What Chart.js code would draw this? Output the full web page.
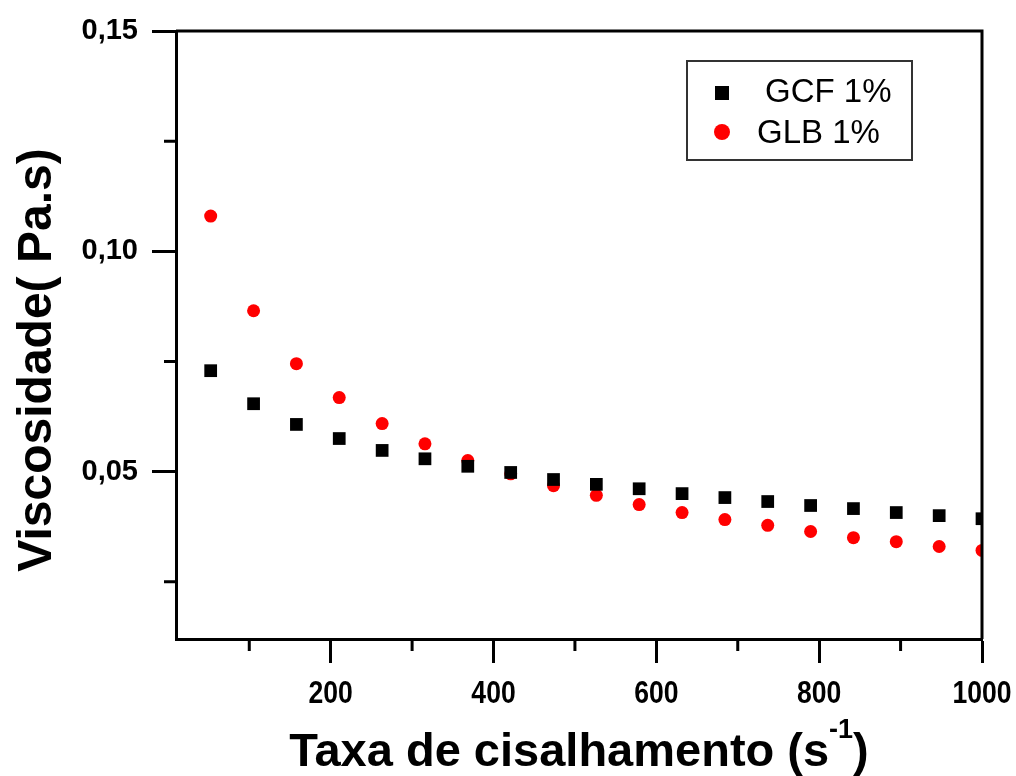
<!DOCTYPE html>
<html>
<head>
<meta charset="utf-8">
<script src="https://cdn.jsdelivr.net/npm/chart.js@4.4.1/dist/chart.umd.min.js"></script>
<style>
  html, body { margin: 0; padding: 0; background: #fff; }
  #wrap { width: 1016px; height: 776px; position: relative; }
</style>
</head>
<body>
<div id="wrap"><canvas id="c" width="1016" height="776"></canvas></div>
<script>
// Shear rate (s^-1)
const shearRate = [52.6, 105.3, 157.9, 210.5, 263.2, 315.8, 368.4, 421.1, 473.7, 526.3,
                   578.9, 631.6, 684.2, 736.8, 789.5, 842.1, 894.7, 947.4, 1000];
// Viscosity (Pa.s)
const viscGCF = [0.0729, 0.0654, 0.0607, 0.0575, 0.0548, 0.0529, 0.0512, 0.0498, 0.0482, 0.0471,
                 0.0461, 0.0450, 0.0441, 0.0432, 0.0423, 0.0416, 0.0407, 0.0400, 0.0393];
const viscGLB = [0.1080, 0.0865, 0.0745, 0.0668, 0.0609, 0.0563, 0.0525, 0.0495, 0.0468, 0.0446,
                 0.0425, 0.0407, 0.0391, 0.0378, 0.0364, 0.0350, 0.0341, 0.0330, 0.0321];
const seriesNames = ['GCF 1%', 'GLB 1%'];

const xMajorTicks = [200, 400, 600, 800, 1000];
const xMinorTicks = [100, 300, 500, 700, 900];
const yMajorTicks = [0.05, 0.10, 0.15];
const yMinorTicks = [0.025, 0.075, 0.125];

const xTitle = 'Taxa de cisalhamento (s';
const xTitleSup = '-1';
const yTitle = 'Viscosidade( Pa.s)';

const FONT = '"Liberation Sans", Arial, sans-serif';

const toPoints = (xs, ys) => xs.map((x, i) => ({ x: x, y: ys[i] }));

// Frame, minor ticks, condensed x tick labels, axis titles and legend box
const decorations = {
  id: 'decorations',
  afterDraw(chart) {
    const ctx = chart.ctx;
    const a = chart.chartArea;
    const xs = chart.scales.x, ys = chart.scales.y;
    ctx.save();
    ctx.strokeStyle = '#000';
    ctx.lineWidth = 3;
    // top and right edges of the frame
    ctx.beginPath();
    ctx.moveTo(a.left, a.top);
    ctx.lineTo(a.right, a.top);
    ctx.lineTo(a.right, a.bottom);
    ctx.stroke();
    // minor ticks
    ctx.beginPath();
    xMinorTicks.forEach(v => {
      const px = xs.getPixelForValue(v);
      ctx.moveTo(px, a.bottom);
      ctx.lineTo(px, a.bottom + 12);
    });
    yMinorTicks.forEach(v => {
      const py = ys.getPixelForValue(v);
      ctx.moveTo(a.left, py);
      ctx.lineTo(a.left - 12, py);
    });
    ctx.stroke();

    // x tick labels, horizontally condensed
    ctx.fillStyle = '#000';
    ctx.font = 'bold 32px ' + FONT;
    ctx.textAlign = 'center';
    ctx.textBaseline = 'alphabetic';
    xs.ticks.forEach(t => {
      const px = xs.getPixelForValue(t.value);
      ctx.save();
      ctx.translate(px, a.bottom + 64);
      ctx.scale(0.83, 1);
      ctx.fillText(t.label, 0, 0);
      ctx.restore();
    });

    // y axis title
    ctx.font = 'bold 48px ' + FONT;
    ctx.textAlign = 'center';
    ctx.textBaseline = 'middle';
    ctx.save();
    ctx.translate(38, 360);
    ctx.rotate(-Math.PI / 2);
    ctx.fillText(yTitle, 0, 0);
    ctx.restore();

    // x axis title with superscript
    const big = 'bold 47px ' + FONT;
    const small = 'bold 27px ' + FONT;
    ctx.font = big;
    const w1 = ctx.measureText(xTitle).width;
    const w3 = ctx.measureText(')').width;
    ctx.font = small;
    const w2 = ctx.measureText(xTitleSup).width;
    const total = w1 + w2 + w3;
    let x0 = (a.left + a.right) / 2 - total / 2;
    const base = 766;
    ctx.textAlign = 'left';
    ctx.textBaseline = 'alphabetic';
    ctx.font = big;
    ctx.fillText(xTitle, x0, base);
    ctx.font = small;
    ctx.fillText(xTitleSup, x0 + w1, base - 28);
    ctx.font = big;
    ctx.fillText(')', x0 + w1 + w2, base);

    // legend
    ctx.lineWidth = 2;
    ctx.strokeStyle = '#333';
    ctx.strokeRect(687, 61, 225, 99);
    const ds = chart.data.datasets;
    ctx.fillStyle = ds[0].backgroundColor;
    ctx.fillRect(715, 86, 14, 14);
    ctx.fillStyle = ds[1].backgroundColor;
    ctx.beginPath();
    ctx.arc(722, 132, 8, 0, Math.PI * 2);
    ctx.fill();
    ctx.fillStyle = '#000';
    ctx.font = '33px ' + FONT;
    ctx.textBaseline = 'alphabetic';
    ctx.fillText(ds[0].label, 765, 102);
    ctx.fillText(ds[1].label, 757, 143);
    ctx.restore();
  }
};

new Chart(document.getElementById('c'), {
  type: 'scatter',
  data: {
    datasets: [
      {
        label: seriesNames[0],
        data: toPoints(shearRate, viscGCF),
        pointStyle: 'rect',
        pointRadius: 9,
        pointHoverRadius: 9,
        backgroundColor: '#000000',
        borderColor: '#000000',
        borderWidth: 0,
        clip: 0
      },
      {
        label: seriesNames[1],
        data: toPoints(shearRate, viscGLB),
        pointStyle: 'circle',
        pointRadius: 6.5,
        pointHoverRadius: 6.5,
        backgroundColor: '#ff0000',
        borderColor: '#ff0000',
        borderWidth: 0,
        clip: 0
      }
    ]
  },
  options: {
    responsive: false,
    animation: false,
    events: [],
    layout: { padding: { top: 31, right: 34, left: 0, bottom: 0 } },
    plugins: { legend: { display: false }, tooltip: { enabled: false } },
    scales: {
      x: {
        type: 'linear',
        min: 10,
        max: 1000,
        afterBuildTicks: s => { s.ticks = xMajorTicks.map(v => ({ value: v })); },
        afterFit: s => { s.height = 137; s.paddingLeft = 0; s.paddingRight = 0; },
        border: { display: true, color: '#000', width: 3 },
        grid: { drawOnChartArea: false, drawTicks: true, tickLength: 24, tickWidth: 3, tickColor: '#000' },
        ticks: {
          display: false,
          callback: v => String(v)
        }
      },
      y: {
        type: 'linear',
        min: 0.012,
        max: 0.15,
        afterBuildTicks: s => { s.ticks = yMajorTicks.map(v => ({ value: v })); },
        afterFit: s => { s.width = 176; s.paddingTop = 0; s.paddingBottom = 0; },
        border: { display: true, color: '#000', width: 3 },
        grid: { drawOnChartArea: false, drawTicks: true, tickLength: 24, tickWidth: 3, tickColor: '#000' },
        ticks: {
          color: '#000',
          padding: 14,
          font: { family: FONT, size: 29, weight: 'bold' },
          callback: v => v.toFixed(2).replace('.', ',')
        }
      }
    }
  },
  plugins: [decorations]
});
</script>
</body>
</html>
